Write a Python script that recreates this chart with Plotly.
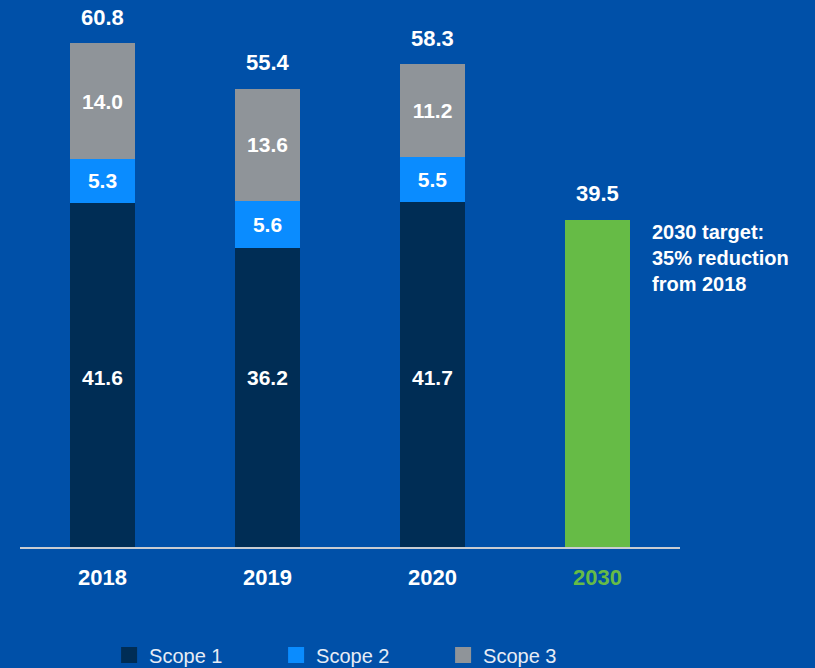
import plotly.graph_objects as go

years = ["2018", "2019", "2020", "2030"]
scope1 = [41.6, 36.2, 41.7, None]
scope2 = [5.3, 5.6, 5.5, None]
scope3 = [14.0, 13.6, 11.2, None]
target = [None, None, None, 39.5]
totals = [60.8, 55.4, 58.3, 39.5]
tick_labels = ["2018", "2019", "2020", "<span style='color:#66bb46'>2030</span>"]
series_names = ["Scope 1", "Scope 2", "Scope 3"]
series_colors = ["#002d55", "#0a8cff", "#8f9499"]

BG = "#0050a8"
FONT = "Liberation Sans, Arial, sans-serif"
idx = list(range(len(years)))

def fmt(vals):
    return [("%.1f" % v) if v is not None else "" for v in vals]

fig = go.Figure()
base = dict(width=0.394, marker_line_width=0, hoverinfo="skip", showlegend=False)
txt = dict(textposition="inside", insidetextanchor="middle",
           textfont=dict(size=21, color="white", family=FONT),
           texttemplate="<b>%{text}</b>", constraintext="none")
fig.add_trace(go.Bar(x=idx, y=scope1, name="Scope 1", marker_color=series_colors[0], **base))
fig.add_trace(go.Bar(x=idx, y=scope2, name="Scope 2", marker_color=series_colors[1], text=fmt(scope2), **base, **txt))
fig.add_trace(go.Bar(x=idx, y=scope3, name="Scope 3", marker_color=series_colors[2], text=fmt(scope3), **base, **txt))
fig.add_trace(go.Bar(x=idx, y=target, name="2030", marker_color="#66bb46", **base))

# legend entries
for n, c in zip(series_names, series_colors):
    fig.add_trace(go.Scatter(x=[None], y=[None], mode="markers", name=n,
                             marker=dict(symbol="square", size=16, color=c), showlegend=True))

# scope 1 labels sit on a common line
lab_y = scope1[0] / 2
for i, v in zip(idx, scope1):
    if v is not None:
        fig.add_annotation(x=i, y=lab_y, text="<b>%.1f</b>" % v, showarrow=False,
                           yanchor="middle", yshift=-3, font=dict(size=21, color="white", family=FONT))

for i, t in zip(idx, totals):
    fig.add_annotation(x=i, y=t, text="<b>%.1f</b>" % t, showarrow=False,
                       yanchor="bottom", yshift=12, font=dict(size=22, color="white", family=FONT))

fig.add_annotation(x=3, y=target[3], xref="x", yref="y", xanchor="left", yanchor="top",
                   xshift=52, yshift=1, align="left", showarrow=False,
                   text="<b>2030 target:<br>35% reduction<br>from 2018</b>",
                   font=dict(size=20, color="white", family=FONT))

fig.update_layout(
    width=815, height=668, barmode="stack",
    paper_bgcolor=BG, plot_bgcolor=BG,
    margin=dict(l=20, r=135, t=1, b=121, autoexpand=False),
    font=dict(family=FONT, color="white"),
    legend=dict(orientation="h", x=0.135, xanchor="left", y=-0.198, yanchor="middle",
                font=dict(size=20, color="#e6ecf5", family=FONT), bgcolor="rgba(0,0,0,0)",
                entrywidth=122, entrywidthmode="pixels", itemclick=False, traceorder="normal"),
    showlegend=True,
)
fig.update_xaxes(type="linear", range=[-0.5, 3.5], tickvals=idx, ticktext=["<b>%s</b>" % t for t in tick_labels],
                 tickfont=dict(size=22, color="white", family=FONT), showline=True,
                 linecolor="#c8ccd2", linewidth=2, showgrid=False, zeroline=False,
                 ticks="", ticklabelstandoff=10, fixedrange=True)
fig.update_yaxes(range=[0, 66.0], visible=False, showgrid=False, zeroline=False, fixedrange=True)

fig.write_html("out.html", config={"displayModeBar": False},
               post_script="document.body.style.margin='0';document.body.style.background='%s';" % BG)
